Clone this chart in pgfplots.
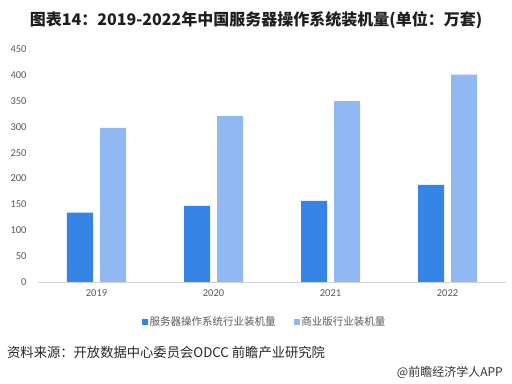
\documentclass[border=0pt]{standalone}
\usepackage{pgfplots}
\pgfplotsset{compat=1.18}
\usepackage{fontspec}
\setmainfont{Carlito}
\newfontfamily\cjk{Noto Sans CJK SC}
\definecolor{darkb}{HTML}{3584E6}
\definecolor{lightb}{HTML}{90B9F3}
\definecolor{tickc}{HTML}{595959}
\definecolor{titlec}{HTML}{1F1F1F}
\begin{document}
\begin{tikzpicture}
\useasboundingbox (0,0) rectangle (512bp,384bp);
\begin{axis}[
  at={(38bp,102bp)}, anchor=south west,
  scale only axis, width=468bp, height=232.7bp,
  xmin=-0.5, xmax=3.5, ymin=0, ymax=450,
  ybar=7bp, bar width=26bp,
  xtick={0,1,2,3}, xticklabels={2019,2020,2021,2022},
  ytick={0,50,...,450},
  axis x line*=bottom, axis y line*=left,
  x axis line style={draw=black!18, line width=0.8pt, -},
  y axis line style={draw=none},
  major tick length=0pt,
  tick label style={font=\fontsize{10.5bp}{12bp}\selectfont, text=tickc},
  /pgf/number format/assume math mode=true,
  yticklabel style={anchor=east, xshift=-8bp},
  xticklabel style={yshift=-4bp},
  legend columns=2,
  legend style={at={(0.484,-0.172)}, anchor=center, draw=none, fill=none,
    font=\cjk\fontsize{10.5bp}{12bp}\selectfont, text=tickc,
    /tikz/every even column/.append style={column sep=16bp},
    inner sep=0pt},
  legend image code/.code={\fill[#1] (0bp,-3bp) rectangle (6bp,3bp);},
]
\addplot[fill=darkb, draw=none] coordinates {(0,134) (1,147) (2,157) (3,188)};
\addplot[fill=lightb, draw=none] coordinates {(0,298) (1,321) (2,350) (3,401)};
\legend{服务器操作系统行业装机量, 商业版行业装机量}
\end{axis}
\node[text=titlec, font=\cjk\bfseries\fontsize{16bp}{18bp}\selectfont] at (256bp,364bp) {图表14：2019-2022年中国服务器操作系统装机量(单位：万套)};
\node[anchor=west, inner sep=0pt, text=black!85, font=\cjk\fontsize{13.3bp}{15bp}\selectfont] at (7bp,32bp) {资料来源：开放数据中心委员会ODCC 前瞻产业研究院};
\node[anchor=east, inner sep=0pt, text=black!80, font=\cjk\fontsize{12bp}{14bp}\selectfont] at (503bp,12bp) {@前瞻经济学人APP};
\end{tikzpicture}
\end{document}
